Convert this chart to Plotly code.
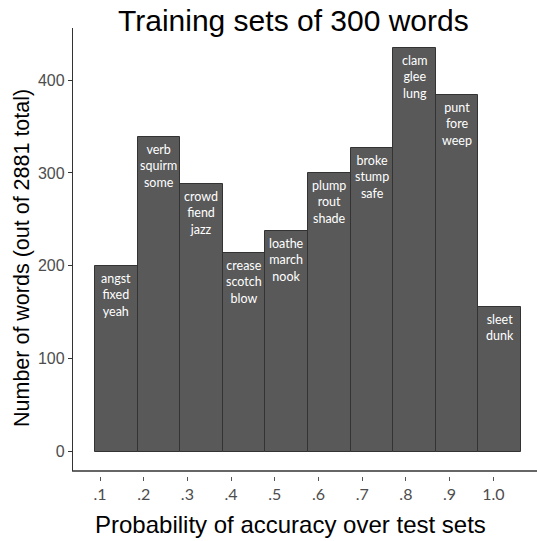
import plotly.graph_objects as go

bins = [1, 2, 3, 4, 5, 6, 7, 8, 9, 10]
counts = [200, 339, 288, 214, 238, 300, 327, 435, 384, 156]
bar_words = [
    "angst<br>fixed<br>yeah",
    "verb<br>squirm<br>some",
    "crowd<br>fiend<br>jazz",
    "crease<br>scotch<br>blow",
    "loathe<br>march<br>nook",
    "plump<br>rout<br>shade",
    "broke<br>stump<br>safe",
    "clam<br>glee<br>lung",
    "punt<br>fore<br>weep",
    "sleet<br>dunk",
]
tick_labels = [".1", ".2", ".3", ".4", ".5", ".6", ".7", ".8", ".9", "1.0"]
y_ticks = [0, 100, 200, 300, 400]

W, H = 537, 541
L, R, T = 73, 537, 28
AX_Y = 471
TICK_Y = 476
B = H - TICK_Y

fig = go.Figure()
fig.add_trace(go.Bar(
    x=bins, y=counts, width=1.0,
    marker=dict(color="#595959", line=dict(color="#333333", width=1)),
    hoverinfo="skip", showlegend=False,
))
fig.add_trace(go.Scatter(x=[1, 10], y=[0, 0], xaxis="x2", mode="markers",
                         marker=dict(opacity=0), hoverinfo="skip", showlegend=False))

for xb, c, w in zip(bins, counts, bar_words):
    fig.add_annotation(x=xb, y=c, xref="x", yref="y", text=w, showarrow=False,
                       yanchor="top", yshift=-3,
                       font=dict(family="Lato, sans-serif", size=12.5, color="white"))

plot_h = TICK_Y - T
dom0 = (TICK_Y - AX_Y) / plot_h

fig.update_layout(
    width=W, height=H,
    margin=dict(l=L, r=W - R, t=T, b=B, pad=0),
    plot_bgcolor="white", paper_bgcolor="white",
    bargap=0,
    xaxis=dict(range=[-0.016, 10.875], showline=False,
               showgrid=False, zeroline=False, showticklabels=False, ticks="", anchor="y"),
    xaxis2=dict(range=[0.382, 11.0], overlaying="x", anchor="free", position=0, side="bottom",
                tickmode="array", tickvals=bins, ticktext=tick_labels,
                ticks="outside", ticklen=4, tickcolor="#555555", tickwidth=1,
                showline=False, showgrid=False, zeroline=False,
                tickfont=dict(family="Lato, sans-serif", size=16, color="#4d4d4d")),
    yaxis=dict(range=[-20.8, 456], domain=[dom0, 1], showline=True, linecolor="#333333",
               linewidth=1.3, showgrid=False, zeroline=False, tickmode="array",
               tickvals=y_ticks, ticks="outside", ticklen=4, tickcolor="#333333",
               tickfont=dict(family="Arial, Liberation Sans, sans-serif", size=16, color="#4d4d4d")),
    font=dict(family="Arial, Liberation Sans, sans-serif"),
)

# bottom axis line across the full panel width
fig.add_shape(type="line", xref="paper", yref="y domain", x0=-0.002, x1=1.0, y0=0, y1=0,
              line=dict(color="#333333", width=1.3), layer="above")

fig.add_annotation(text="Training sets of 300 words", xref="paper", yref="paper",
                   x=(293 - L) / (R - L), y=(TICK_Y - 20) / plot_h, showarrow=False,
                   xanchor="center", yanchor="middle",
                   font=dict(family="Arial, Liberation Sans, sans-serif", size=30, color="black"))
fig.add_annotation(text="Probability of accuracy over test sets", xref="paper", yref="paper",
                   x=(290 - L) / (R - L), y=(TICK_Y - 524) / plot_h, showarrow=False,
                   xanchor="center", yanchor="middle",
                   font=dict(family="Arial, Liberation Sans, sans-serif", size=24, color="black"))
fig.add_annotation(text="Number of words (out of 2881 total)", xref="paper", yref="paper",
                   x=(22 - L) / (R - L), y=(TICK_Y - 258) / plot_h, showarrow=False,
                   textangle=-90, xanchor="center", yanchor="middle",
                   font=dict(family="Arial, Liberation Sans, sans-serif", size=21.5, color="black"))

fig.write_html(
    "out.html",
    config={"displayModeBar": False},
    post_script="document.body.style.margin='0';document.body.style.overflow='hidden';"
                "document.documentElement.style.overflow='hidden';",
)
